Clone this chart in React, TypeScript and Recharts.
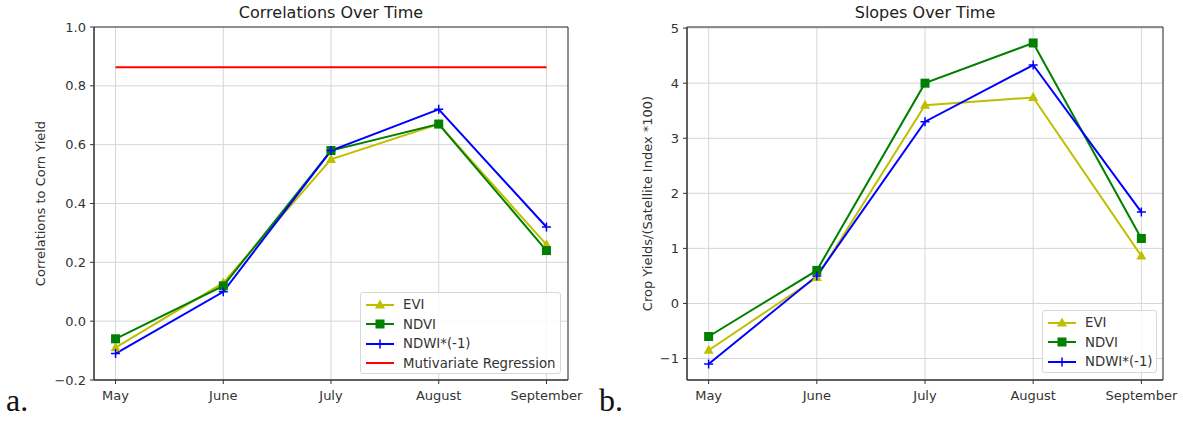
import React from 'react';
import { LineChart, Line, XAxis, YAxis, CartesianGrid, Legend, Label, ReferenceArea } from 'recharts';

const months = ['May', 'June', 'July', 'August', 'September'];

// a. correlations
const corrEvi = [-0.09, 0.13, 0.55, 0.67, 0.26];
const corrNdvi = [-0.06, 0.12, 0.58, 0.67, 0.24];
const corrNdwi = [-0.11, 0.10, 0.58, 0.72, 0.32];
const corrRegression = [0.863, 0.863, 0.863, 0.863, 0.863];
const corrTicks = [-0.2, 0, 0.2, 0.4, 0.6, 0.8, 1.0];

// b. slopes
const slopeEvi = [-0.85, 0.47, 3.6, 3.74, 0.86];
const slopeNdvi = [-0.6, 0.6, 4.0, 4.73, 1.18];
const slopeNdwi = [-1.1, 0.5, 3.3, 4.33, 1.66];
const slopeTicks = [-1, 0, 1, 2, 3, 4, 5];

const YELLOW = '#bfbf00';
const GREEN = '#008000';
const BLUE = '#0000ff';
const RED = '#ff0000';
const FONT = '"DejaVu Sans", sans-serif';

const corrRows = months.map((m, i) => ({
  idx: i, month: m, evi: corrEvi[i], ndvi: corrNdvi[i], ndwi: corrNdwi[i], reg: corrRegression[i],
}));
const slopeRows = months.map((m, i) => ({
  idx: i, month: m, evi: slopeEvi[i], ndvi: slopeNdvi[i], ndwi: slopeNdwi[i],
}));

type MarkerKind = 'tri' | 'sq' | 'plus' | 'none';

const markerPath = (kind: MarkerKind, cx: number, cy: number, color: string, key?: any) => {
  if (kind === 'tri')
    return <path key={key} d={`M${cx},${cy - 5.5}L${cx + 5},${cy + 3.5}L${cx - 5},${cy + 3.5}Z`} fill={color} />;
  if (kind === 'sq')
    return <rect key={key} x={cx - 4.5} y={cy - 4.5} width={9} height={9} fill={color} />;
  if (kind === 'plus')
    return <path key={key} d={`M${cx - 4.5},${cy}H${cx + 4.5}M${cx},${cy - 4.5}V${cy + 4.5}`} stroke={color} strokeWidth={1.5} />;
  return null;
};

const dotFor = (kind: MarkerKind, color: string) => (props: any) => {
  const { cx, cy, index } = props;
  if (cx == null || cy == null) return <g key={index} />;
  return markerPath(kind, cx, cy, color, index);
};

const tickStyle = { fontSize: 13, fill: '#333', fontFamily: FONT };

const LegendBox = ({ items }: { items: { name: string; color: string; kind: MarkerKind }[] }) => (
  <div style={{
    border: '1px solid #d8d8d8', borderRadius: 3, background: 'rgba(255,255,255,0.85)',
    padding: '2px 0 0 0', boxSizing: 'border-box', width: '100%', height: '100%',
    fontFamily: FONT, fontSize: 13.3, color: '#333',
  }}>
    {items.map(it => (
      <div key={it.name} style={{ display: 'flex', alignItems: 'center', height: 19.5 }}>
        <svg width={40} height={12} style={{ marginLeft: 2 }}>
          <line x1={3} x2={31} y1={6} y2={6} stroke={it.color} strokeWidth={2} />
          {markerPath(it.kind, 17, 6, it.color)}
        </svg>
        <span>{it.name}</span>
      </div>
    ))}
  </div>
);

const corrLegend = [
  { name: 'EVI', color: YELLOW, kind: 'tri' as MarkerKind },
  { name: 'NDVI', color: GREEN, kind: 'sq' as MarkerKind },
  { name: 'NDWI*(-1)', color: BLUE, kind: 'plus' as MarkerKind },
  { name: 'Mutivariate Regression', color: RED, kind: 'none' as MarkerKind },
];
const slopeLegend = corrLegend.slice(0, 3);

const yLabel = (text: string, x: number) => (props: any) => {
  const vb = props.viewBox || {};
  const cy = (vb.y ?? 0) + (vb.height ?? 0) / 2;
  return (
    <text x={x} y={cy} transform={`rotate(-90, ${x}, ${cy})`} textAnchor="middle" dominantBaseline="central"
      style={{ fontSize: 13, fill: '#333', fontFamily: FONT }}>{text}</text>
  );
};

const Title = ({ text, left, width }: { text: string; left: number; width: number }) => (
  <div style={{ position: 'absolute', left, width, top: 3, textAlign: 'center', fontFamily: FONT, fontSize: 16, color: '#222' }}>
    {text}
  </div>
);

const PanelTag = ({ text, left }: { text: string; left: number }) => (
  <div style={{ position: 'absolute', left, top: 382, fontFamily: '"Liberation Serif", serif', fontSize: 32, color: '#111' }}>
    {text}
  </div>
);

export default function App() {
  return (
    <div style={{ position: 'absolute', left: 0, top: 0, width: 1183, height: 423, background: '#fff' }}>
      <div style={{ position: 'absolute', left: 0, top: 0 }}>
        <LineChart width={600} height={423} data={corrRows} margin={{ top: 27, right: 32, bottom: 13, left: 0 }}>
          <CartesianGrid stroke="#d6d6d6" strokeWidth={1} />
          <XAxis dataKey="idx" type="number" domain={[-0.2, 4.2]} ticks={[0, 1, 2, 3, 4]}
            tickFormatter={(v: number) => months[v]} height={30} tickSize={4} tickMargin={7}
            tick={tickStyle} stroke="#333" />
          <YAxis type="number" domain={[-0.2, 1.0]} ticks={corrTicks} width={94} tickSize={4} tickMargin={4}
            tickFormatter={(v: number) => (v < 0 ? '\u2212' + Math.abs(v).toFixed(1) : v.toFixed(1))}
            tick={tickStyle} stroke="#333">
            <Label content={yLabel('Correlations to Corn Yield', 40)} />
          </YAxis>
          <ReferenceArea x1={-0.2} x2={4.2} y1={-0.2} y2={1.0} fill="none" stroke="#333" strokeWidth={1} />
          <Line dataKey="evi" stroke={YELLOW} strokeWidth={2} dot={dotFor('tri', YELLOW)} isAnimationActive={false} />
          <Line dataKey="ndvi" stroke={GREEN} strokeWidth={2} dot={dotFor('sq', GREEN)} isAnimationActive={false} />
          <Line dataKey="ndwi" stroke={BLUE} strokeWidth={2} dot={dotFor('plus', BLUE)} isAnimationActive={false} />
          <Line dataKey="reg" stroke={RED} strokeWidth={2} dot={false} isAnimationActive={false} />
          <Legend layout="vertical" align="center" verticalAlign="middle"
            wrapperStyle={{ left: 360, top: 292, width: 201, height: 82 }}
            content={() => <LegendBox items={corrLegend} />} />
        </LineChart>
      </div>
      <Title text="Correlations Over Time" left={94} width={474} />
      <PanelTag text="a." left={6} />

      <div style={{ position: 'absolute', left: 590, top: 0 }}>
        <LineChart width={593} height={423} data={slopeRows} margin={{ top: 27, right: 20, bottom: 13, left: 0 }}>
          <CartesianGrid stroke="#d6d6d6" strokeWidth={1} />
          <XAxis dataKey="idx" type="number" domain={[-0.2, 4.2]} ticks={[0, 1, 2, 3, 4]}
            tickFormatter={(v: number) => months[v]} height={30} tickSize={4} tickMargin={7}
            tick={tickStyle} stroke="#333" />
          <YAxis type="number" domain={[-1.39, 5.02]} ticks={slopeTicks} width={97} tickSize={4} tickMargin={4}
            tickFormatter={(v: number) => (v < 0 ? '\u2212' + Math.abs(v) : String(v))}
            tick={tickStyle} stroke="#333" allowDataOverflow>
            <Label content={yLabel('Crop Yields/(Satellite Index *100)', 57)} />
          </YAxis>
          <ReferenceArea x1={-0.2} x2={4.2} y1={-1.39} y2={5.02} fill="none" stroke="#333" strokeWidth={1} />
          <Line dataKey="evi" stroke={YELLOW} strokeWidth={2} dot={dotFor('tri', YELLOW)} isAnimationActive={false} />
          <Line dataKey="ndvi" stroke={GREEN} strokeWidth={2} dot={dotFor('sq', GREEN)} isAnimationActive={false} />
          <Line dataKey="ndwi" stroke={BLUE} strokeWidth={2} dot={dotFor('plus', BLUE)} isAnimationActive={false} />
          <Legend layout="vertical" align="center" verticalAlign="middle"
            wrapperStyle={{ left: 452, top: 310, width: 115, height: 63 }}
            content={() => <LegendBox items={slopeLegend} />} />
        </LineChart>
      </div>
      <Title text="Slopes Over Time" left={687} width={476} />
      <PanelTag text="b." left={599} />
    </div>
  );
}
